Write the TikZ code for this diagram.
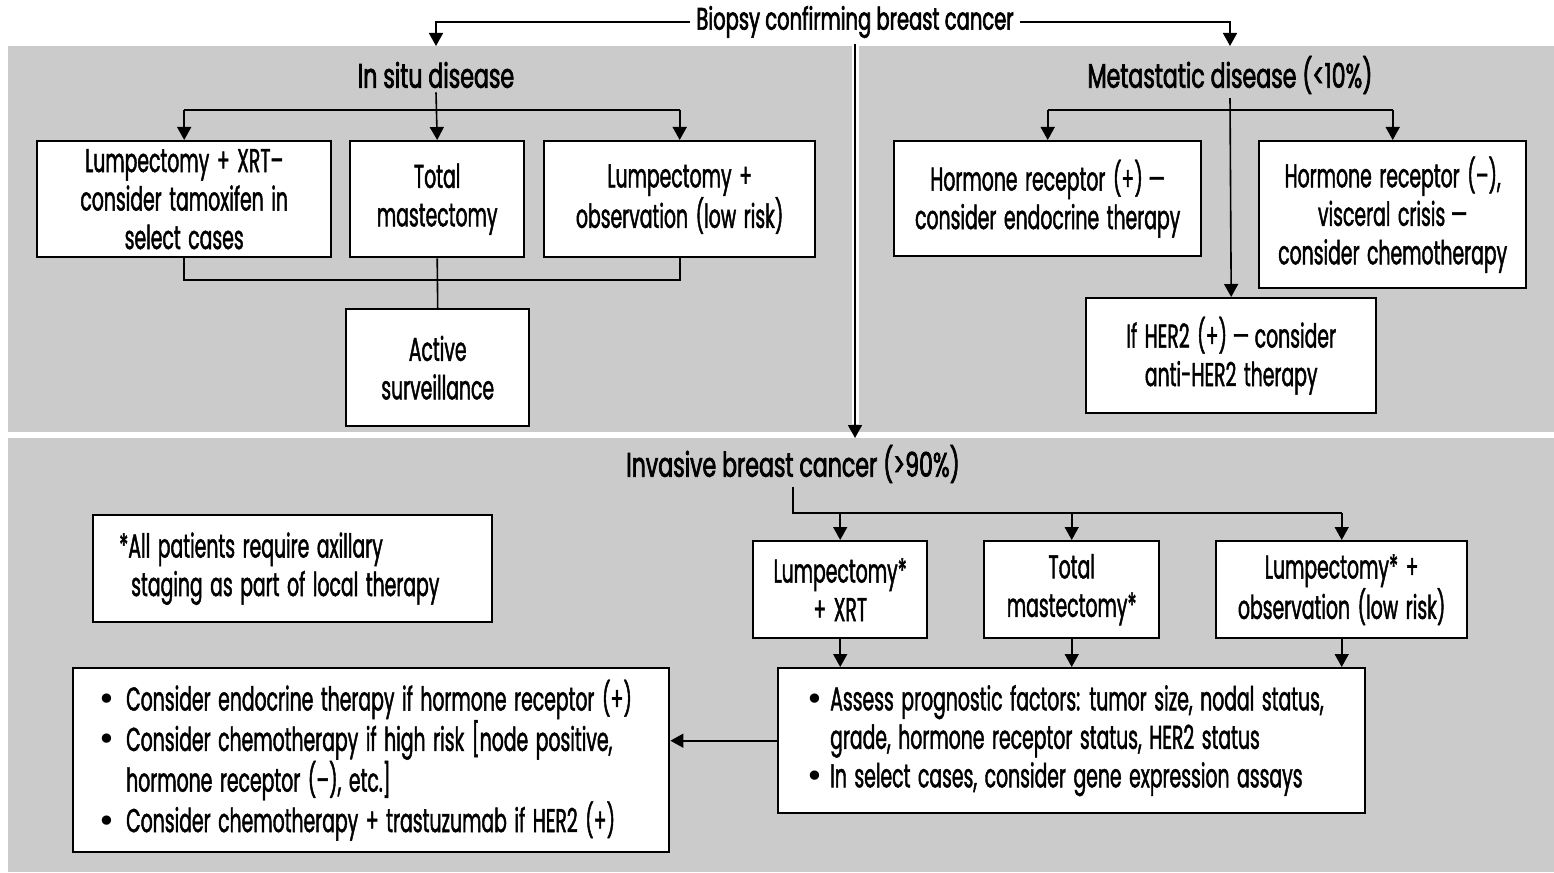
\documentclass[tikz,border=0pt]{standalone}
\usepackage{fontspec}
\setmainfont[FakeStretch=0.57,FakeBold=1.3,WordSpace=1.5]{Poppins}
\newfontfamily\headfont[FakeStretch=0.65,FakeBold=2]{Poppins}
\newfontfamily\titlefont[FakeStretch=0.63,FakeBold=2]{Poppins}
\newfontfamily\dejavu{DejaVu Sans}
\newcommand{\bul}[1]{\makebox[#1][l]{\dejavu\fontsize{32}{0}\selectfont •}}
\newcommand{\fixline}[2]{\makebox[#1][l]{#2}}
\usetikzlibrary{arrows.meta,calc}
\definecolor{panel}{HTML}{CBCBCB}
\begin{document}
\begin{tikzpicture}[x=1pt,y=-1pt,
  font=\fontsize{33}{38.5}\selectfont,
  box/.style={draw=black,line width=2.4pt,fill=white,align=center,inner sep=0pt,anchor=north west},
  lbox/.style={box,align=left},
  head/.style={inner sep=4pt,font=\headfont\fontsize{34}{36}\selectfont},
  conn/.style={line width=1.6pt},
  arr/.style={line width=1.6pt,-{Triangle[length=13pt,width=14pt]}}]
\useasboundingbox (0,0) rectangle (1554,872);
\fill[white] (0,0) rectangle (1554,872);
\fill[panel] (8,46) rectangle (1554,432);
\fill[panel] (8,438) rectangle (1554,872);

% headings
\node[inner sep=6pt,font=\titlefont\fontsize{31}{36}\selectfont] (biopsy) at (855,22) {Biopsy confirming breast cancer};
\node[head] (insitu) at (436,75) {In situ disease};
\node[head] (meta) at (1230,75) {Metastatic disease (<10\%)};
\node[head] (inv) at (793,464) {Invasive breast cancer (>90\%)};

\coordinate (topL) at (436,46);
\coordinate (topR) at (1230,46);
\coordinate (invtop) at (855,438);
\coordinate (halo) at (855,424);
\coordinate (isbar) at (436,110);
\coordinate (isjoin) at (436,280);
\coordinate (mbar) at (1230,110);
\coordinate (ibar) at (793,513);

% in situ boxes
\node[box,minimum width=294pt,minimum height=116pt] (a1) at (36,140) {Lumpectomy + XRT–\\consider tamoxifen in\\select cases};
\node[box,minimum width=174pt,minimum height=116pt] (a2) at (349,140) {Total\\mastectomy};
\node[box,minimum width=271pt,minimum height=116pt] (a3) at (543,140) {Lumpectomy +\\observation (low risk)};
\node[box,minimum width=183pt,minimum height=117pt] (a4) at (345,308) {Active\\surveillance};

% metastatic boxes
\node[box,minimum width=307pt,minimum height=115pt] (m1) at (893,140) {Hormone receptor (+)\,—\\consider endocrine therapy};
\node[box,minimum width=267pt,minimum height=147pt] (m2) at (1258,140) {Hormone receptor (–),\\visceral crisis\,—\\consider chemotherapy};
\node[box,minimum width=290pt,minimum height=115pt] (m3) at (1085,297) {If HER2 (+)\,—\,consider\\anti-HER2 therapy};

% invasive boxes
\node[box,minimum width=174pt,minimum height=97pt] (b1) at (752,540) {Lumpectomy*\\+ XRT};
\node[box,minimum width=175pt,minimum height=97pt] (b2) at (983,540) {Total\\mastectomy*};
\node[box,minimum width=251pt,minimum height=97pt] (b3) at (1215,540) {Lumpectomy* +\\observation (low risk)};

\node[lbox,minimum height=107pt] (note) at (92,514)
  {\fixline{399pt}{\hspace*{26pt}*All patients require axillary}\\
   \fixline{399pt}{\hspace*{38pt}staging as part of local therapy}};

\node[lbox,minimum height=145pt] (p) at (777,667)
  {\fixline{587pt}{\hspace*{27pt}\bul{25pt}Assess prognostic factors: tumor size, nodal status,}\\
   \fixline{587pt}{\hspace*{52pt}grade, hormone receptor status, HER2 status}\\
   \fixline{587pt}{\hspace*{27pt}\bul{25pt}In select cases, consider gene expression assays}};

\node[lbox,minimum height=184pt] (l) at (72,667)
  {\fixline{596pt}{\hspace*{24pt}\bul{29pt}Consider endocrine therapy if hormone receptor (+)}\\
   \fixline{596pt}{\hspace*{24pt}\bul{29pt}Consider chemotherapy if high risk [node positive,}\\
   \fixline{596pt}{\hspace*{53pt}hormone receptor (–), etc.]}\\
   \fixline{596pt}{\hspace*{24pt}\bul{29pt}Consider chemotherapy + trastuzumab if HER2 (+)}};

% biopsy connectors
\draw[arr] (biopsy.west) -| (topL);
\draw[arr] (biopsy.east) -| (topR);
\draw[white,line width=7pt] (biopsy.south) -- (halo);
\draw[arr] (biopsy.south) -- (invtop);

% in situ connectors
\draw[conn] (a1.north |- isbar) -- (a3.north |- isbar);
\draw[arr] (insitu.south) -- (a2.north);
\draw[arr] (a1.north |- isbar) -- (a1.north);
\draw[arr] (a3.north |- isbar) -- (a3.north);
\draw[conn] (a1.south) |- (a3.south |- isjoin) -- (a3.south);
\draw[conn] (a2.south) -- (a4.north);

% metastatic connectors
\draw[conn] (m1.north |- mbar) -- (m2.north |- mbar);
\draw[arr] (m1.north |- mbar) -- (m1.north);
\draw[arr] (m2.north |- mbar) -- (m2.north);
\draw[arr] (meta.south) -- (m3.north);

% invasive connectors
\draw[conn] (inv.south) |- (b3.north |- ibar);
\draw[arr] (b1.north |- ibar) -- (b1.north);
\draw[arr] (b2.north |- ibar) -- (b2.north);
\draw[arr] (b3.north |- ibar) -- (b3.north);
\draw[arr] (b1.south) -- (b1.south |- p.north);
\draw[arr] (b2.south) -- (b2.south |- p.north);
\draw[arr] (b3.south) -- (b3.south |- p.north);
\draw[arr] (p.west) -- (p.west -| l.east);
\end{tikzpicture}
\end{document}
